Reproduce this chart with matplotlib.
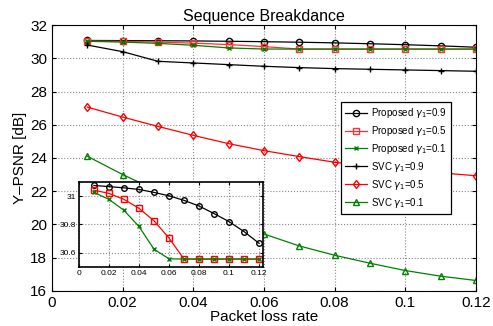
import numpy as np
import matplotlib
matplotlib.use("Agg")
import matplotlib.pyplot as plt

plt.rcParams['font.family'] = ['Liberation Sans', 'DejaVu Sans']

# packet loss rates
LossRate = [0.01, 0.02, 0.03, 0.04, 0.05, 0.06, 0.07, 0.08, 0.09, 0.10, 0.11, 0.12]

# Y-PSNR [dB] per scheme
Prop09 = [31.075, 31.067, 31.058, 31.047, 31.026, 31.002, 30.97, 30.93, 30.877, 30.82, 30.75, 30.667]
Prop05 = [31.042, 31.019, 30.977, 30.914, 30.826, 30.705, 30.556, 30.556, 30.556, 30.556, 30.556, 30.556]
Prop01 = [31.026, 30.977, 30.90, 30.786, 30.626, 30.558, 30.556, 30.556, 30.556, 30.556, 30.556, 30.556]
Svc09 = [30.8, 30.4, 29.82, 29.72, 29.62, 29.52, 29.44, 29.38, 29.34, 29.30, 29.26, 29.22]
Svc05 = [27.06, 26.46, 25.9, 25.36, 24.86, 24.44, 24.08, 23.74, 23.5, 23.3, 23.1, 22.93]
Svc01 = [24.1, 23.0, 22.0, 21.1, 20.25, 19.42, 18.70, 18.14, 17.66, 17.22, 16.88, 16.62]

Green = (0, 0.5, 0)

fig = plt.figure(figsize=(4.93, 3.26), dpi=100)
ax = fig.add_axes([0.1055, 0.108, 0.860, 0.815])

# proposed scheme curves
ax.plot(LossRate, Prop09, '-o', color='k', ms=4.5, mfc='none', lw=0.9, label=r'Proposed $\gamma_1$=0.9')
ax.plot(LossRate, Prop05, '-s', color='#ff3030', ms=4, mfc='none', lw=0.9, label=r'Proposed $\gamma_1$=0.5')
ax.plot(LossRate, Prop01, '-x', color=Green, ms=3.5, lw=0.9, label=r'Proposed $\gamma_1$=0.1')
# SVC curves
ax.plot(LossRate, Svc09, '-+', color='k', ms=5, lw=0.9, label=r'SVC $\gamma_1$=0.9')
ax.plot(LossRate, Svc05, '-d', color='r', ms=4.5, mfc='none', lw=0.9, label=r'SVC $\gamma_1$=0.5')
ax.plot(LossRate, Svc01, '-^', color=Green, ms=4.5, mfc='none', lw=0.9, label=r'SVC $\gamma_1$=0.1')

ax.set_xlim(0, 0.12)
ax.set_ylim(16, 32)
ax.set_xticks(np.arange(0, 0.121, 0.02))
ax.set_xticklabels(['0', '0.02', '0.04', '0.06', '0.08', '0.1', '0.12'])
ax.set_yticks(np.arange(16, 33, 2))
ax.tick_params(direction='in', labelsize=11, length=3, top=True, right=True)
ax.grid(True, linestyle=':', color='#888888', lw=0.8)
ax.set_xlabel('Packet loss rate', fontsize=11, labelpad=0)
ax.set_ylabel('Y\u2013PSNR [dB]', fontsize=11, labelpad=2)
ax.set_title('Sequence Breakdance', fontsize=11.5, pad=3)

leg = ax.legend(loc='upper left', bbox_to_anchor=(0.67, 0.73), fontsize=7,
                fancybox=False, framealpha=1, edgecolor='k', handlelength=2.2,
                borderpad=0.45, labelspacing=0.4, handletextpad=0.4)
leg.get_frame().set_linewidth(0.9)

# zoomed view of the proposed curves
ins = fig.add_axes([0.160, 0.181, 0.373, 0.261])
ins.plot(LossRate, Prop09, '-o', color='k', ms=4, mfc='none', lw=0.9)
ins.plot(LossRate, Prop05, '-s', color='r', ms=3.8, mfc='none', lw=0.9)
ins.plot(LossRate, Prop01, '-x', color=Green, ms=3.2, lw=0.9)
ins.set_xlim(0, 0.1225)
ins.set_ylim(30.5, 31.1)
ins.set_xticks(np.arange(0, 0.121, 0.02))
ins.set_xticklabels(['0', '0.02', '0.04', '0.06', '0.08', '0.1', '0.12'])
ins.set_yticks([30.6, 30.8, 31])
ins.set_yticklabels(['30.6', '30.8', '31'])
ins.tick_params(direction='in', labelsize=6, length=2, top=True, right=True, pad=2)
ins.grid(True, linestyle=':', color='#888888', lw=0.8)
for s in ins.spines.values():
    s.set_linewidth(1.2)

plt.savefig('out.png', dpi=100)
